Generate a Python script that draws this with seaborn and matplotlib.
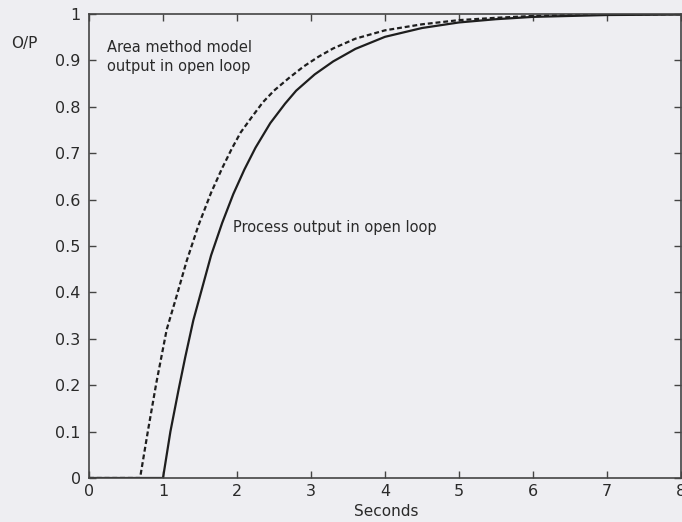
import matplotlib
matplotlib.use("Agg")
import matplotlib.pyplot as plt
import seaborn as sns
import pandas as pd

# Open-loop step responses (time in seconds, normalised output)
process_t = [0, 1.0, 1.1, 1.21, 1.3, 1.41, 1.53, 1.65, 1.8, 1.95, 2.1, 2.25,
             2.45, 2.65, 2.8, 3.05, 3.3, 3.6, 4.0, 4.5, 5.0, 5.5, 6.0, 6.5, 7.0, 8.0]
process_y = [0, 0, 0.10, 0.19, 0.26, 0.34, 0.41, 0.48, 0.55, 0.612, 0.665, 0.712,
             0.765, 0.807, 0.835, 0.87, 0.898, 0.925, 0.951, 0.97, 0.982, 0.989,
             0.994, 0.996, 0.998, 0.999]

model_t = [0, 0.69, 0.8, 0.91, 1.05, 1.18, 1.32, 1.48, 1.65, 1.8, 1.93, 2.05, 2.2,
           2.35, 2.5, 2.7, 2.9, 3.1, 3.3, 3.6, 4.0, 4.5, 5.0, 5.5, 6.0, 6.5, 7.0, 8.0]
model_y = [0, 0, 0.105, 0.205, 0.32, 0.39, 0.468, 0.545, 0.615, 0.668, 0.71, 0.745,
           0.778, 0.81, 0.835, 0.862, 0.887, 0.908, 0.926, 0.947, 0.965, 0.978,
           0.987, 0.992, 0.996, 0.998, 0.999, 1.0]

x_ticks = [0, 1, 2, 3, 4, 5, 6, 7, 8]
y_ticks = [0, 0.1, 0.2, 0.3, 0.4, 0.5, 0.6, 0.7, 0.8, 0.9, 1.0]
y_tick_labels = ["0", "0.1", "0.2", "0.3", "0.4", "0.5", "0.6", "0.7", "0.8", "0.9", "1"]

process_df = pd.DataFrame({"t": process_t, "y": process_y})
model_df = pd.DataFrame({"t": model_t, "y": model_y})

sns.set_theme(style="ticks")
plt.rcParams["font.family"] = ["DejaVu Sans"]

bg = "#eeeef2"
ink = "#2a2a2a"

fig = plt.figure(figsize=(6.82, 5.22), dpi=100, facecolor=bg)
ax = fig.add_axes([0.1305, 0.0843, 0.868, 0.8887], facecolor=bg)

sns.lineplot(data=model_df, x="t", y="y", ax=ax, color="#1e1e1e",
             linewidth=1.6, linestyle=(0, (2.2, 1.3)), estimator=None, sort=False)
sns.lineplot(data=process_df, x="t", y="y", ax=ax, color="#1e1e1e",
             linewidth=1.6, linestyle="-", estimator=None, sort=False)

ax.set_xlim(0, 8)
ax.set_ylim(0, 1)
ax.set_xticks(x_ticks)
ax.set_xticklabels([str(v) for v in x_ticks])
ax.set_yticks(y_ticks)
ax.set_yticklabels(y_tick_labels)

for side in ["top", "right", "bottom", "left"]:
    ax.spines[side].set_visible(True)
    ax.spines[side].set_color("#444444")
    ax.spines[side].set_linewidth(1.2)

ax.tick_params(axis="both", direction="in", length=5, width=1.0, color="#444444",
               labelsize=11.5, labelcolor=ink, top=True, right=True)
ax.tick_params(axis="y", pad=6)
ax.tick_params(axis="x", pad=4)

ax.set_xlabel("Seconds", fontsize=11, color=ink)
ax.xaxis.set_label_coords(0.502, -0.055)
ax.set_ylabel("O/P", fontsize=11, color=ink, rotation=0, ha="center", va="center")
ax.yaxis.set_label_coords(-0.11, 0.9375)

ax.text(0.243, 0.945, "Area method model\noutput in open loop", fontsize=10.5,
        color=ink, ha="left", va="top", linespacing=1.4)
ax.text(1.946, 0.539, "Process output in open loop", fontsize=10.5,
        color=ink, ha="left", va="center")

fig.savefig("out.png", dpi=100, facecolor=bg)
